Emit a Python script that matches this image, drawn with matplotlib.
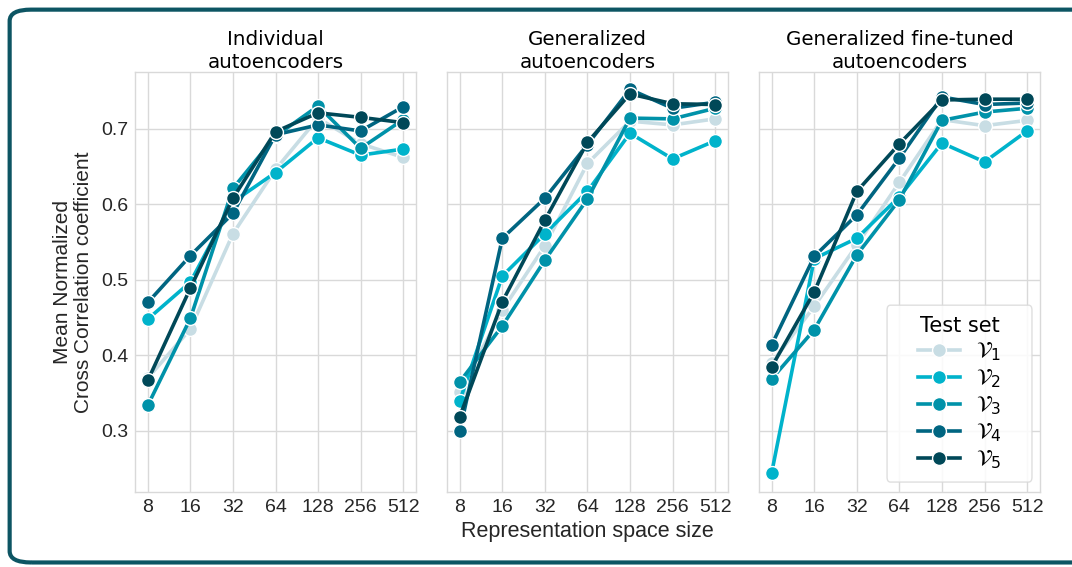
import numpy as np
import matplotlib.pyplot as plt
from matplotlib.patches import FancyBboxPatch

# Representation space sizes (categorical x axis)
sizes = ['8', '16', '32', '64', '128', '256', '512']
titles = ['Individual\nautoencoders', 'Generalized\nautoencoders',
          'Generalized fine-tuned\nautoencoders']
test_sets = [r'$\mathcal{V}_1$', r'$\mathcal{V}_2$', r'$\mathcal{V}_3$',
             r'$\mathcal{V}_4$', r'$\mathcal{V}_5$']

# Individual autoencoders
indiv_v1 = [0.370, 0.435, 0.561, 0.646, 0.714, 0.680, 0.662]
indiv_v2 = [0.448, 0.497, 0.603, 0.642, 0.688, 0.665, 0.673]
indiv_v3 = [0.334, 0.449, 0.621, 0.690, 0.730, 0.674, 0.712]
indiv_v4 = [0.470, 0.532, 0.588, 0.692, 0.705, 0.697, 0.729]
indiv_v5 = [0.367, 0.489, 0.608, 0.696, 0.721, 0.715, 0.708]

# Generalized autoencoders
gen_v1 = [0.352, 0.460, 0.545, 0.654, 0.710, 0.705, 0.713]
gen_v2 = [0.340, 0.505, 0.561, 0.617, 0.694, 0.660, 0.684]
gen_v3 = [0.365, 0.439, 0.526, 0.607, 0.714, 0.713, 0.727]
gen_v4 = [0.300, 0.555, 0.608, 0.679, 0.752, 0.727, 0.735]
gen_v5 = [0.319, 0.471, 0.579, 0.682, 0.746, 0.733, 0.732]

# Generalized fine-tuned autoencoders
ft_v1 = [0.390, 0.465, 0.546, 0.629, 0.712, 0.704, 0.711]
ft_v2 = [0.245, 0.528, 0.555, 0.610, 0.681, 0.656, 0.697]
ft_v3 = [0.369, 0.434, 0.533, 0.606, 0.711, 0.722, 0.727]
ft_v4 = [0.414, 0.531, 0.586, 0.661, 0.742, 0.732, 0.734]
ft_v5 = [0.385, 0.484, 0.617, 0.680, 0.738, 0.739, 0.739]

panels = [
    [indiv_v1, indiv_v2, indiv_v3, indiv_v4, indiv_v5],
    [gen_v1, gen_v2, gen_v3, gen_v4, gen_v5],
    [ft_v1, ft_v2, ft_v3, ft_v4, ft_v5],
]

colors = ['#c8dde4', '#00b3cb', '#0092a9', '#006581', '#004858']

plt.rcParams['font.family'] = ['Liberation Sans', 'DejaVu Sans']

fig = plt.figure(figsize=(10.72, 5.67), dpi=100)

# rounded frame around the figure
frame = FancyBboxPatch((0.009, 0.008), 1.03, 0.975,
                       boxstyle='round,pad=0,rounding_size=0.02',
                       transform=fig.transFigure, fill=False,
                       edgecolor='#0d5563', linewidth=3, clip_on=False)
fig.patches.append(frame)

lefts = [0.126, 0.417, 0.708]
width = 0.262
bottom = 0.132
height = 0.741
x = np.arange(len(sizes))

axes = []
for i, data in enumerate(panels):
    ax = fig.add_axes([lefts[i], bottom, width, height])
    axes.append(ax)
    ax.set_facecolor('white')
    ax.grid(True, color='#d9d9d9', linewidth=1)
    ax.set_axisbelow(True)
    for s in ax.spines.values():
        s.set_color('#d9d9d9')
        s.set_linewidth(1)
    for j, vals in enumerate(data):
        ax.plot(x, vals, color=colors[j], linewidth=2.6, marker='o',
                markersize=10, markeredgecolor='white', markeredgewidth=1,
                label=test_sets[j])
    ax.set_xlim(-0.3, 6.3)
    ax.set_ylim(0.219, 0.775)
    ax.set_xticks(x)
    ax.set_xticklabels(sizes)
    ax.set_yticks([0.3, 0.4, 0.5, 0.6, 0.7])
    ax.tick_params(length=0, labelsize=14, colors='#262626', pad=5)
    ax.set_title(titles[i], fontsize=14.3, family='DejaVu Sans',
                 linespacing=1.25, pad=3)
    if i > 0:
        ax.set_yticklabels([])

axes[0].set_ylabel('Mean Normalized\nCross Correlation coefficient',
                   fontsize=15, color='#262626', linespacing=1.12, labelpad=6)
fig.text(0.548, 0.062, 'Representation space size', ha='center', va='center',
         fontsize=15.5, color='#262626')

# legend box drawn by hand so it can be wider than its content
box = FancyBboxPatch((0.456, 0.024), 0.516, 0.421,
                     boxstyle='round,pad=0,rounding_size=0.012',
                     transform=axes[2].transAxes, facecolor='white',
                     edgecolor='#d9d9d9', linewidth=1, alpha=0.85, zorder=5)
axes[2].add_patch(box)
leg = axes[2].legend(loc='center', bbox_to_anchor=(0.714, 0.2345),
                     title='Test set', fontsize=16, title_fontsize=15,
                     frameon=False, handlelength=1.9, handletextpad=0.7,
                     labelspacing=0.2)
leg.set_zorder(6)
leg.get_title().set_family('DejaVu Sans')

plt.savefig('out.png', dpi=100)
